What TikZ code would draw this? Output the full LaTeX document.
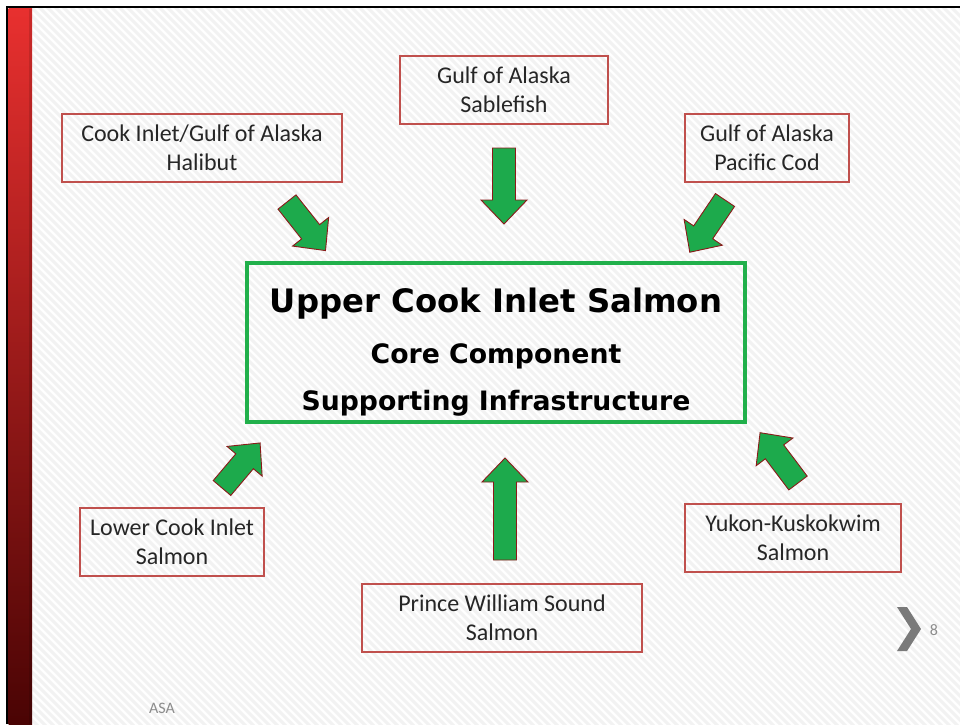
\documentclass[tikz,border=0pt]{standalone}
\usepackage{fontspec}
\setmainfont{Carlito}
\newfontfamily\corefont{DejaVu Sans}
\definecolor{boxred}{HTML}{C0504D}
\definecolor{coregreen}{HTML}{21B04B}
\definecolor{arrowgreen}{HTML}{1DAA4C}
\definecolor{arrowedge}{HTML}{8B1A1A}
\definecolor{txt}{HTML}{262626}
\definecolor{slidegray}{HTML}{8C8C8C}
\definecolor{chev}{HTML}{7A7A7A}
\definecolor{bartop}{HTML}{E8302F}
\definecolor{barmid}{HTML}{A01212}
\definecolor{barbot}{HTML}{4A0404}
\tikzset{
  srcbox/.style={draw=boxred, line width=1.3pt, fill=none, align=center, text=txt,
    font=\fontsize{24}{29}\selectfont, inner sep=0pt},
  corebox/.style={draw=coregreen, line width=3.6pt, inner sep=0pt},
  coretext/.style={text=black, anchor=base, inner sep=0pt},
  blockarrowstyle/.style={fill=arrowgreen, draw=arrowedge, line width=0.9pt, line join=miter},
  stripe/.style={draw=black!5, line width=3pt},
}
\newcommand{\greenblockarrow}[4]{%
  \draw[blockarrowstyle, shift={(#1,#2)}, rotate=#3]
    (0,-11.5) -- ({#4-24},-11.5) -- ({#4-24},-23) -- (#4,0) -- ({#4-24},23) -- ({#4-24},11.5) -- (0,11.5) -- cycle;}
\begin{document}
\begin{tikzpicture}[x=1pt,y=-1pt]
\useasboundingbox (0,0) rectangle (960,724);
\fill[white] (0,0) rectangle (960,724);
% background stripes
\begin{scope}
  \clip (7,7) rectangle (960,724);
  \foreach \i in {-760,-752,...,960} \draw[stripe] (\i,0) -- ++(760,760);
\end{scope}
% red side bar
\shade[top color=bartop, middle color=barmid, bottom color=barbot] (8.5,8.5) rectangle (32,724);
\fill[black, opacity=0.12] (29,8.5) rectangle (32,724);
% black frame
\draw[line width=2.6pt] (7,724) -- (7,7) -- (960,7);

% core box
\node[corebox, minimum width=498, minimum height=159] (core) at (496,342.5) {};
\node[coretext, font=\corefont\bfseries\fontsize{32.3}{32}\selectfont] (l1) at (496,312) {Upper Cook Inlet Salmon};
\node[coretext, font=\corefont\bfseries\fontsize{26.7}{26}\selectfont] (l2) at (496,363) {Core Component};
\node[coretext, font=\corefont\bfseries\fontsize{26.7}{26}\selectfont] (l3) at (496,410) {Supporting Infrastructure};

% source boxes
\node[srcbox, minimum width=280, minimum height=68] (hal) at (202,148) {Cook Inlet/Gulf of Alaska\\Halibut};
\node[srcbox, minimum width=208, minimum height=68] (sab) at (504,90) {Gulf of Alaska\\Sablefish};
\node[srcbox, minimum width=164, minimum height=68] (cod) at (767,148) {Gulf of Alaska\\Pacific Cod};
\node[srcbox, minimum width=184, minimum height=68] (low) at (172,542) {Lower Cook Inlet\\Salmon};
\node[srcbox, minimum width=280, minimum height=68] (pws) at (502,618) {Prince William Sound\\Salmon};
\node[srcbox, minimum width=216, minimum height=68] (yuk) at (793,538) {Yukon-Kuskokwim\\Salmon};

% block arrows
\greenblockarrow{287}{202}{-51.6}{62}
\greenblockarrow{504}{148}{-90}{76}
\greenblockarrow{725}{200}{-124}{63}
\greenblockarrow{222}{488}{49.8}{59}
\greenblockarrow{505}{560}{90}{102}
\greenblockarrow{798}{483}{127}{63}

% slide furniture
\fill[chev] (897,607) -- (907,607) -- (921,629) -- (907,651) -- (897,651) -- (911,629) -- cycle;
\node[text=slidegray, font=\fontsize{16}{16}\selectfont] (pnum) at (934,630) {8};
\node[text=slidegray, font=\fontsize{16}{16}\selectfont] (asa) at (162,708) {ASA};
\end{tikzpicture}
\end{document}
